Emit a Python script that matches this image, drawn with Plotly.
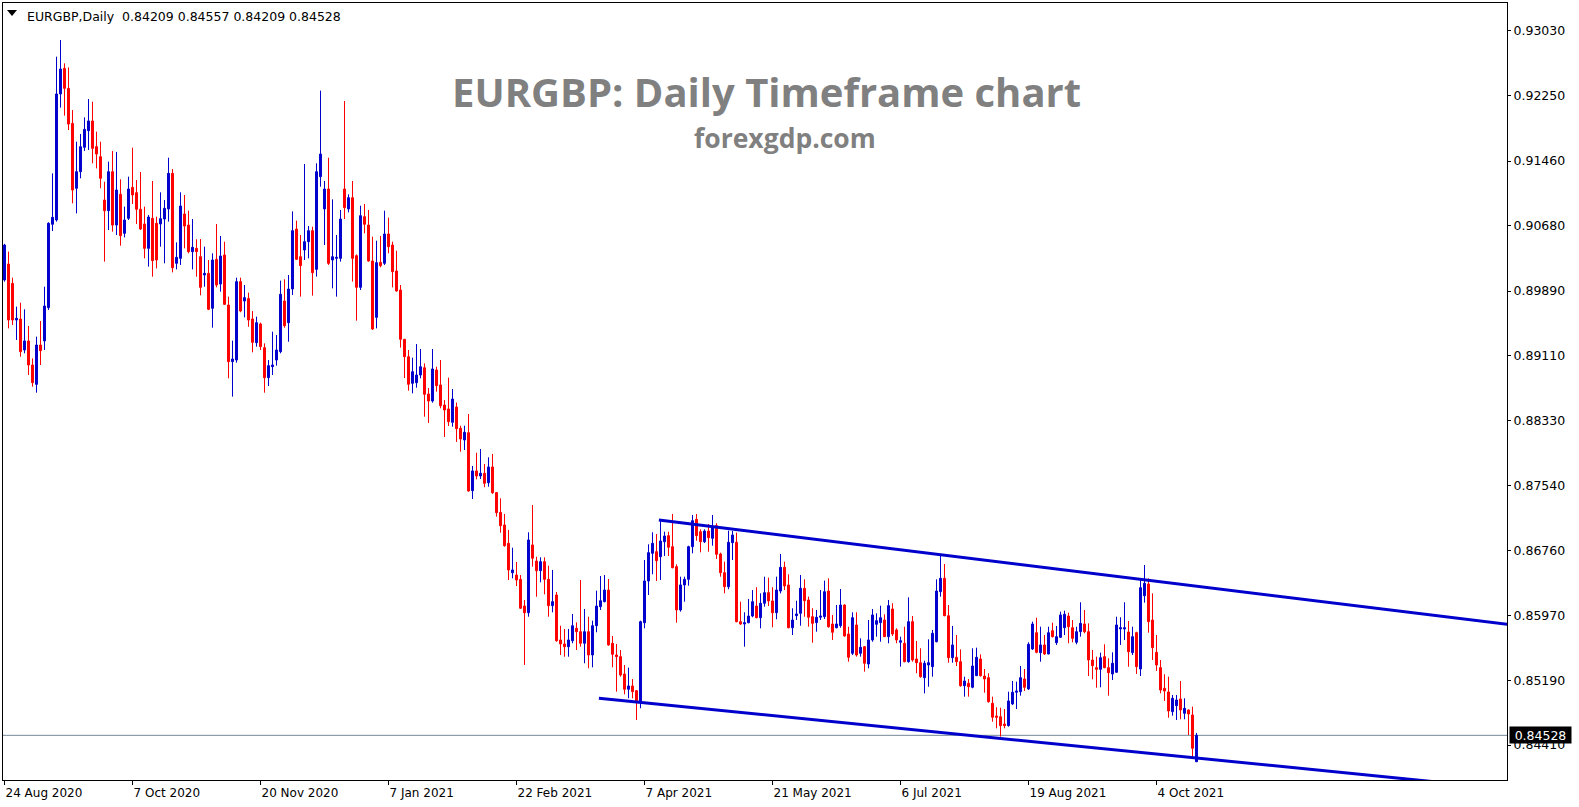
import pandas as pd
import plotly.graph_objects as go

# ---------------- data ----------------
SYMBOL = "EURGBP,Daily"
START_DATE = "2020-08-24"
HOLIDAYS = ["2020-12-25", "2021-01-01"]

OPEN = [
    0.90024, 0.90217, 0.89983, 0.89541, 0.89553, 0.89179, 0.89288, 0.88998, 0.88764, 0.89239,
    0.89288, 0.89690, 0.90696, 0.90748, 0.92269, 0.92578, 0.92337, 0.91914, 0.91130, 0.91331,
    0.91625, 0.91826, 0.91943, 0.91633, 0.91512, 0.90989, 0.90860, 0.91331, 0.90687, 0.91058,
    0.90587, 0.90768, 0.91142, 0.91078, 0.90877, 0.90700, 0.90406, 0.90768, 0.90708, 0.90700,
    0.90760, 0.90881, 0.91311, 0.90225, 0.90285, 0.90820, 0.90687, 0.90366, 0.90406, 0.90305,
    0.90084, 0.90104, 0.89682, 0.90273, 0.89975, 0.90325, 0.89722, 0.89038, 0.89058, 0.90004,
    0.89770, 0.89799, 0.89553, 0.89267, 0.89493, 0.89207, 0.88845, 0.88978, 0.89058, 0.89159,
    0.89770, 0.89509, 0.89915, 0.90639, 0.90305, 0.90386, 0.90486, 0.90619, 0.90152, 0.91271,
    0.90881, 0.91122, 0.90265, 0.90285, 0.90285, 0.91122, 0.90881, 0.91017, 0.90317, 0.89935,
    0.90788, 0.90687, 0.90253, 0.89573, 0.90237, 0.90225, 0.90579, 0.90446, 0.90132, 0.89903,
    0.89308, 0.89098, 0.88777, 0.88784, 0.88877, 0.88965, 0.88648, 0.88563, 0.88938, 0.88757,
    0.88515, 0.88467, 0.88306, 0.88491, 0.88234, 0.88093, 0.88181, 0.87481, 0.87719, 0.87658,
    0.87691, 0.87577, 0.87767, 0.87458, 0.87220, 0.87067, 0.86846, 0.86491, 0.86463, 0.86411,
    0.86089, 0.86008, 0.86826, 0.86632, 0.86515, 0.86624, 0.86411, 0.86093, 0.86222, 0.85679,
    0.85631, 0.85598, 0.85670, 0.85820, 0.85779, 0.85639, 0.85779, 0.85498, 0.85851, 0.86081,
    0.86141, 0.86282, 0.85639, 0.85498, 0.85478, 0.85268, 0.85084, 0.85124, 0.85067, 0.84927,
    0.85887, 0.86391, 0.86725, 0.86745, 0.86684, 0.86865, 0.86938, 0.86805, 0.86564, 0.86041,
    0.86343, 0.86411, 0.86805, 0.87135, 0.86986, 0.86865, 0.86994, 0.86906, 0.87059, 0.86717,
    0.86491, 0.86322, 0.86853, 0.86858, 0.85900, 0.85872, 0.85888, 0.85968, 0.86089, 0.85948,
    0.86122, 0.86250, 0.86150, 0.86008, 0.86270, 0.86556, 0.86343, 0.85827, 0.85972, 0.86001,
    0.86303, 0.86162, 0.85960, 0.85888, 0.85953, 0.85960, 0.86270, 0.85872, 0.85827, 0.85851,
    0.86101, 0.85751, 0.85518, 0.85860, 0.85518, 0.85598, 0.85389, 0.85679, 0.85868, 0.85888,
    0.85920, 0.85719, 0.86053, 0.85800, 0.85651, 0.85639, 0.85417, 0.85900, 0.85450, 0.85405,
    0.85224, 0.85377, 0.85357, 0.85658, 0.86262, 0.86423, 0.85972, 0.85465, 0.85470, 0.85417,
    0.85127, 0.85156, 0.85108, 0.85248, 0.85450, 0.85244, 0.85224, 0.84915, 0.84762, 0.84753,
    0.84665, 0.84645, 0.84907, 0.85048, 0.85055, 0.85208, 0.85088, 0.85570, 0.85767, 0.85526,
    0.85619, 0.85510, 0.85791, 0.85646, 0.85711, 0.85827, 0.85968, 0.85827, 0.85651, 0.85779,
    0.85872, 0.85779, 0.85437, 0.85345, 0.85325, 0.85478, 0.85345, 0.85269, 0.85289, 0.85812,
    0.85812, 0.85775, 0.85526, 0.85767, 0.85329, 0.86213, 0.86355, 0.85920, 0.85530, 0.85345,
    0.85096, 0.85051, 0.84814, 0.84886, 0.84967, 0.84794, 0.84834, 0.84774, 0.84209,
]
HIGH = [
    0.90460, 0.90366, 0.90052, 0.89702, 0.89750, 0.89670, 0.89469, 0.89078, 0.89340, 0.89529,
    0.89943, 0.90720, 0.91311, 0.92719, 0.92920, 0.92639, 0.92590, 0.92075, 0.91693, 0.91786,
    0.91987, 0.92208, 0.92176, 0.91814, 0.91693, 0.91210, 0.91452, 0.91581, 0.91569, 0.91239,
    0.90909, 0.91271, 0.91621, 0.91231, 0.91327, 0.90909, 0.90808, 0.91219, 0.90788, 0.91082,
    0.90989, 0.91500, 0.91363, 0.90478, 0.91082, 0.91050, 0.90860, 0.90760, 0.90515, 0.90519,
    0.90426, 0.90265, 0.90346, 0.90700, 0.90555, 0.90486, 0.89823, 0.89292, 0.90052, 0.90052,
    0.89963, 0.89871, 0.89650, 0.89581, 0.89509, 0.89259, 0.89058, 0.89400, 0.89360, 0.90016,
    0.90032, 0.90084, 0.90852, 0.90740, 0.90567, 0.91424, 0.90675, 0.90667, 0.91432, 0.92309,
    0.91219, 0.91500, 0.90997, 0.90567, 0.90869, 0.92184, 0.91058, 0.91219, 0.90333, 0.90921,
    0.90941, 0.90869, 0.90547, 0.90498, 0.90555, 0.90860, 0.90776, 0.90486, 0.90377, 0.89963,
    0.89312, 0.89179, 0.89086, 0.89251, 0.89191, 0.89018, 0.88720, 0.89191, 0.88977, 0.89058,
    0.88575, 0.88845, 0.88708, 0.88545, 0.88265, 0.88265, 0.88406, 0.87779, 0.87939, 0.87984,
    0.87803, 0.87884, 0.87924, 0.87462, 0.87389, 0.87200, 0.87007, 0.86793, 0.86620, 0.86463,
    0.86162, 0.86979, 0.87308, 0.86684, 0.86677, 0.86677, 0.86576, 0.86524, 0.86258, 0.85851,
    0.85812, 0.85812, 0.85993, 0.85892, 0.86403, 0.86053, 0.85960, 0.85912, 0.86274, 0.86451,
    0.86463, 0.86415, 0.85727, 0.85631, 0.85558, 0.85377, 0.85345, 0.85208, 0.85075, 0.85912,
    0.86644, 0.86834, 0.86979, 0.86958, 0.87127, 0.86986, 0.86986, 0.87200, 0.86592, 0.86443,
    0.86443, 0.86817, 0.87187, 0.87200, 0.87015, 0.87015, 0.87079, 0.87187, 0.87087, 0.86733,
    0.86624, 0.86998, 0.86994, 0.86974, 0.86141, 0.86013, 0.86174, 0.86282, 0.86315, 0.86242,
    0.86443, 0.86431, 0.86315, 0.86443, 0.86717, 0.86624, 0.86472, 0.86062, 0.86153, 0.86463,
    0.86411, 0.86202, 0.86062, 0.86041, 0.86282, 0.86395, 0.86423, 0.85981, 0.86101, 0.86294,
    0.86110, 0.85839, 0.86013, 0.86013, 0.85699, 0.85606, 0.85920, 0.86053, 0.86001, 0.86093,
    0.85989, 0.86162, 0.86122, 0.85820, 0.85719, 0.85839, 0.86194, 0.85968, 0.85667, 0.85579,
    0.85429, 0.85687, 0.85800, 0.86411, 0.86705, 0.86596, 0.86101, 0.85848, 0.85739, 0.85566,
    0.85236, 0.85208, 0.85579, 0.85586, 0.85506, 0.85329, 0.85277, 0.84995, 0.84867, 0.84862,
    0.84846, 0.85055, 0.85184, 0.85176, 0.85365, 0.85329, 0.85651, 0.85900, 0.85948, 0.85839,
    0.85739, 0.85839, 0.85888, 0.85848, 0.86021, 0.86033, 0.86008, 0.85920, 0.85839, 0.86134,
    0.86041, 0.85880, 0.85558, 0.85478, 0.85526, 0.85627, 0.85458, 0.85530, 0.85960, 0.85953,
    0.86134, 0.85908, 0.85839, 0.85779, 0.86403, 0.86584, 0.86423, 0.86242, 0.85739, 0.85437,
    0.85265, 0.85236, 0.85015, 0.85015, 0.85184, 0.84975, 0.84842, 0.84874, 0.84557,
]
LOW = [
    0.90004, 0.89440, 0.89481, 0.89300, 0.89098, 0.89139, 0.88877, 0.88736, 0.88664, 0.88998,
    0.89179, 0.89662, 0.90615, 0.90728, 0.92104, 0.92007, 0.91834, 0.90949, 0.90828, 0.91251,
    0.91581, 0.91593, 0.91432, 0.91371, 0.91130, 0.90245, 0.90627, 0.90607, 0.90567, 0.90438,
    0.90539, 0.90748, 0.90941, 0.90700, 0.90627, 0.90285, 0.90185, 0.90064, 0.90164, 0.90426,
    0.90225, 0.90728, 0.90116, 0.90152, 0.90205, 0.90406, 0.90346, 0.90152, 0.90064, 0.89839,
    0.89943, 0.89660, 0.89448, 0.89935, 0.89883, 0.89722, 0.88837, 0.88616, 0.89026, 0.89634,
    0.89573, 0.89460, 0.89151, 0.89219, 0.89179, 0.88664, 0.88744, 0.88877, 0.88990, 0.89139,
    0.89448, 0.89279, 0.89843, 0.90265, 0.89823, 0.90265, 0.90285, 0.89835, 0.90064, 0.91150,
    0.90446, 0.90205, 0.89923, 0.89823, 0.90245, 0.90760, 0.90840, 0.90004, 0.89533, 0.89903,
    0.90587, 0.90245, 0.89420, 0.89440, 0.90177, 0.90205, 0.90346, 0.89935, 0.89883, 0.89207,
    0.88841, 0.88688, 0.88656, 0.88724, 0.88837, 0.88374, 0.88298, 0.88543, 0.88676, 0.88475,
    0.88129, 0.88262, 0.88253, 0.88069, 0.87951, 0.87972, 0.87469, 0.87381, 0.87618, 0.87622,
    0.87522, 0.87529, 0.87441, 0.87167, 0.86974, 0.86805, 0.86403, 0.86423, 0.86330, 0.86053,
    0.85377, 0.85960, 0.86564, 0.86201, 0.86375, 0.86230, 0.85960, 0.86013, 0.85658, 0.85498,
    0.85477, 0.85477, 0.85639, 0.85558, 0.85598, 0.85398, 0.85337, 0.85349, 0.85772, 0.86041,
    0.86134, 0.85610, 0.85349, 0.85055, 0.85236, 0.85023, 0.84975, 0.84975, 0.84713, 0.84855,
    0.85820, 0.86222, 0.86472, 0.86391, 0.86403, 0.86693, 0.86693, 0.86544, 0.85888, 0.86021,
    0.86141, 0.86334, 0.86725, 0.86877, 0.86737, 0.86849, 0.86745, 0.86817, 0.86657, 0.86443,
    0.86242, 0.86291, 0.86644, 0.85892, 0.85860, 0.85598, 0.85880, 0.85953, 0.85941, 0.85820,
    0.86081, 0.86089, 0.85832, 0.85929, 0.86242, 0.86282, 0.85820, 0.85739, 0.85920, 0.85851,
    0.85960, 0.85839, 0.85646, 0.85779, 0.85920, 0.85932, 0.85827, 0.85679, 0.85820, 0.85827,
    0.85719, 0.85417, 0.85498, 0.85478, 0.85478, 0.85297, 0.85337, 0.85658, 0.85719, 0.85658,
    0.85715, 0.85639, 0.85727, 0.85639, 0.85357, 0.85410, 0.85405, 0.85417, 0.85277, 0.85224,
    0.85035, 0.85115, 0.85236, 0.85651, 0.86202, 0.85965, 0.85405, 0.85405, 0.85365, 0.85115,
    0.84995, 0.84995, 0.85096, 0.85244, 0.85236, 0.85043, 0.84922, 0.84693, 0.84613, 0.84512,
    0.84613, 0.84633, 0.84894, 0.84846, 0.85007, 0.85063, 0.85075, 0.85558, 0.85518, 0.85417,
    0.85498, 0.85506, 0.85709, 0.85619, 0.85706, 0.85739, 0.85639, 0.85651, 0.85627, 0.85719,
    0.85760, 0.85244, 0.85204, 0.85103, 0.85108, 0.85337, 0.85007, 0.85196, 0.85284, 0.85619,
    0.85679, 0.85357, 0.85498, 0.85269, 0.85244, 0.86129, 0.85767, 0.85437, 0.85305, 0.85035,
    0.84943, 0.84741, 0.84765, 0.84713, 0.84722, 0.84722, 0.84532, 0.84258, 0.84209,
]
CLOSE = [
    0.90446, 0.89541, 0.89541, 0.89561, 0.89159, 0.89288, 0.88998, 0.88785, 0.89239, 0.89171,
    0.89710, 0.90708, 0.90780, 0.92269, 0.92570, 0.92337, 0.91906, 0.91110, 0.91331, 0.91633,
    0.91842, 0.91943, 0.91613, 0.91544, 0.91251, 0.90860, 0.91331, 0.90687, 0.91110, 0.90559,
    0.90748, 0.91122, 0.91050, 0.90877, 0.90639, 0.90406, 0.90784, 0.90257, 0.90265, 0.90764,
    0.90889, 0.91311, 0.90172, 0.90297, 0.90917, 0.90675, 0.90366, 0.90418, 0.90366, 0.89935,
    0.90104, 0.89670, 0.90265, 0.89963, 0.90313, 0.89730, 0.89038, 0.89070, 0.90004, 0.89650,
    0.89811, 0.89541, 0.89271, 0.89509, 0.89219, 0.88845, 0.88990, 0.88998, 0.89179, 0.89851,
    0.89473, 0.89915, 0.90619, 0.90273, 0.90197, 0.90486, 0.90619, 0.90112, 0.91331, 0.91544,
    0.91122, 0.90225, 0.90305, 0.90297, 0.90760, 0.90897, 0.91017, 0.90285, 0.89935, 0.90800,
    0.90696, 0.90253, 0.89432, 0.90233, 0.90197, 0.90579, 0.90426, 0.90124, 0.89891, 0.89308,
    0.89098, 0.88765, 0.88917, 0.88877, 0.88977, 0.88644, 0.88563, 0.88950, 0.88748, 0.88507,
    0.88455, 0.88314, 0.88587, 0.88229, 0.88105, 0.88186, 0.87477, 0.87719, 0.87658, 0.87691,
    0.87570, 0.87767, 0.87457, 0.87215, 0.87058, 0.86817, 0.86524, 0.86524, 0.86403, 0.86062,
    0.86008, 0.86886, 0.86665, 0.86515, 0.86624, 0.86411, 0.86093, 0.86141, 0.85670, 0.85631,
    0.85598, 0.85679, 0.85851, 0.85779, 0.85639, 0.85779, 0.85498, 0.85851, 0.86089, 0.86153,
    0.86282, 0.85619, 0.85506, 0.85478, 0.85256, 0.85084, 0.85124, 0.85055, 0.84927, 0.85900,
    0.86391, 0.86733, 0.86846, 0.86636, 0.86874, 0.86934, 0.86798, 0.86551, 0.86041, 0.86343,
    0.86411, 0.86805, 0.87119, 0.86938, 0.86865, 0.86994, 0.86914, 0.87047, 0.86713, 0.86491,
    0.86322, 0.86858, 0.86946, 0.85900, 0.85872, 0.85888, 0.85968, 0.86141, 0.85948, 0.86122,
    0.86250, 0.86150, 0.86008, 0.86282, 0.86556, 0.86331, 0.85827, 0.85920, 0.85993, 0.86303,
    0.86153, 0.85953, 0.85880, 0.85953, 0.85968, 0.86262, 0.85839, 0.85772, 0.85872, 0.86101,
    0.85727, 0.85470, 0.85948, 0.85498, 0.85591, 0.85398, 0.85679, 0.85981, 0.85912, 0.85948,
    0.85719, 0.86093, 0.85751, 0.85679, 0.85670, 0.85417, 0.85900, 0.85437, 0.85405, 0.85236,
    0.85398, 0.85405, 0.85760, 0.86270, 0.86423, 0.85972, 0.85465, 0.85619, 0.85417, 0.85127,
    0.85184, 0.85115, 0.85365, 0.85470, 0.85248, 0.85208, 0.84934, 0.84746, 0.84746, 0.84645,
    0.84645, 0.84943, 0.85048, 0.85063, 0.85224, 0.85108, 0.85627, 0.85872, 0.85530, 0.85619,
    0.85510, 0.85767, 0.85719, 0.85719, 0.85981, 0.85989, 0.85839, 0.85699, 0.85779, 0.85880,
    0.85779, 0.85437, 0.85369, 0.85325, 0.85465, 0.85345, 0.85284, 0.85398, 0.85860, 0.85827,
    0.85827, 0.85538, 0.85719, 0.85357, 0.86310, 0.86363, 0.85900, 0.85586, 0.85377, 0.85075,
    0.85063, 0.84822, 0.84975, 0.84955, 0.84834, 0.84854, 0.84786, 0.84372, 0.84528,
]

X_TICK_LABELS = ["24 Aug 2020", "7 Oct 2020", "20 Nov 2020", "7 Jan 2021", "22 Feb 2021",
                 "7 Apr 2021", "21 May 2021", "6 Jul 2021", "19 Aug 2021", "4 Oct 2021"]
Y_TICKS = [0.93030, 0.92250, 0.91460, 0.90680, 0.89890, 0.89110,
           0.88330, 0.87540, 0.86760, 0.85970, 0.85190, 0.84410]

# trend lines: (bar position, price) anchor pairs
UPPER_LINE_X = [163.6, 375.9]
UPPER_LINE_Y = [0.87127, 0.85866]
LOWER_LINE_X = [148.6, 375.9]
LOWER_LINE_Y = [0.84975, 0.83879]

LAST_PRICE = CLOSE[-1]
TITLE = "EURGBP: Daily Timeframe chart"
SUBTITLE = "forexgdp.com"

# ---------------- build ----------------
n = len(OPEN)
bday = pd.offsets.CustomBusinessDay(holidays=HOLIDAYS)
dates = pd.date_range(START_DATE, periods=n, freq=bday)
pos = list(range(n))
tick_dates = [pd.to_datetime(t, format="%d %b %Y") for t in X_TICK_LABELS]
tick_pos = [int(dates.get_loc(d)) for d in tick_dates]

W, H = 1579, 807
ML, MR, MT, MB = 3, 72, 3, 27
PW = W - ML - MR
PH = H - MT - MB
BAR_PX = 4.0
x_lo = -0.375
x_hi = x_lo + PW / BAR_PX
y_hi = 0.93367
y_lo = 0.83989


def px_x(px):
    return (px - ML) / PW


def px_y(py):
    return (H - MB - py) / PH


BLUE = "#0000CD"
RED = "#FF0000"
font_axis = dict(family="DejaVu Sans", size=12.5, color="black")

fig = go.Figure()
fig.add_trace(go.Candlestick(
    x=pos, open=OPEN, high=HIGH, low=LOW, close=CLOSE,
    increasing=dict(line=dict(color=BLUE, width=1), fillcolor=BLUE),
    decreasing=dict(line=dict(color=RED, width=1), fillcolor=RED),
    whiskerwidth=0, hovertext=[d.strftime("%Y-%m-%d") for d in dates],
    showlegend=False,
))
for xs, ys in [(UPPER_LINE_X, UPPER_LINE_Y), (LOWER_LINE_X, LOWER_LINE_Y)]:
    fig.add_trace(go.Scatter(x=xs, y=ys, mode="lines",
                             line=dict(color=BLUE, width=3),
                             showlegend=False, hoverinfo="skip"))

fig.update_layout(
    width=W, height=H,
    margin=dict(l=ML, r=MR, t=MT, b=MB, pad=0),
    paper_bgcolor="white", plot_bgcolor="white",
    showlegend=False,
    xaxis=dict(
        range=[x_lo, x_hi], rangeslider=dict(visible=False),
        tickmode="array", tickvals=tick_pos, ticktext=X_TICK_LABELS,
        ticks="outside", ticklen=4, tickcolor="black", tickwidth=1,
        ticklabelposition="outside right", ticklabelstandoff=2,
        tickfont=dict(family="DejaVu Sans", size=12, color="black"),
        showgrid=False, zeroline=False,
        showline=True, linecolor="black", linewidth=1, mirror=True,
    ),
    yaxis=dict(
        range=[y_lo, y_hi], side="right",
        tickmode="array", tickvals=Y_TICKS, ticktext=[f"{v:.5f}" for v in Y_TICKS],
        ticks="outside", ticklen=3, tickcolor="black", tickwidth=1,
        tickfont=font_axis,
        showgrid=False, zeroline=False,
        showline=True, linecolor="black", linewidth=1, mirror=True,
    ),
)

# last price line
fig.add_shape(type="line", xref="paper", yref="y", x0=0, x1=1,
              y0=LAST_PRICE, y1=LAST_PRICE,
              line=dict(color="#778899", width=1), layer="below")

# header triangle
tri = [(7, 10), (17, 10), (12, 16)]
path = "M " + " L ".join(f"{px_x(a):.5f},{px_y(b):.5f}" for a, b in tri) + " Z"
fig.add_shape(type="path", xref="paper", yref="paper", path=path,
              fillcolor="black", line=dict(color="black", width=0))

header = (f"{SYMBOL}  {OPEN[-1]:.5f} {HIGH[-1]:.5f} {LOW[-1]:.5f} {CLOSE[-1]:.5f}")
fig.add_annotation(text=header, xref="paper", yref="paper",
                   x=px_x(25), y=px_y(6.7), xanchor="left", yanchor="top",
                   showarrow=False, font=dict(family="DejaVu Sans", size=12.5, color="black"))

fig.add_annotation(text=TITLE, xref="paper", yref="paper",
                   x=px_x(766), y=px_y(92), xanchor="center", yanchor="middle",
                   showarrow=False,
                   font=dict(family="Open Sans", size=40, color="#808080", weight=700))
fig.add_annotation(text=SUBTITLE, xref="paper", yref="paper",
                   x=px_x(785), y=px_y(138.5), xanchor="center", yanchor="middle",
                   showarrow=False,
                   font=dict(family="Open Sans", size=26.5, color="#808080", weight=700))

# last price tag
fig.add_annotation(text=f"{LAST_PRICE:.5f}", xref="paper", yref="y",
                   x=px_x(1509), y=LAST_PRICE, xanchor="left", yanchor="middle",
                   showarrow=False, bgcolor="black", borderpad=0,
                   width=61, height=16, align="center",
                   font=dict(family="DejaVu Sans", size=12.5, color="white"))

fig.write_html(
    "out.html",
    config={"displayModeBar": False},
    post_script="document.body.style.margin='0';document.body.style.padding='0';"
                "document.documentElement.style.overflow='hidden';"
                "document.body.style.overflow='hidden';",
)
